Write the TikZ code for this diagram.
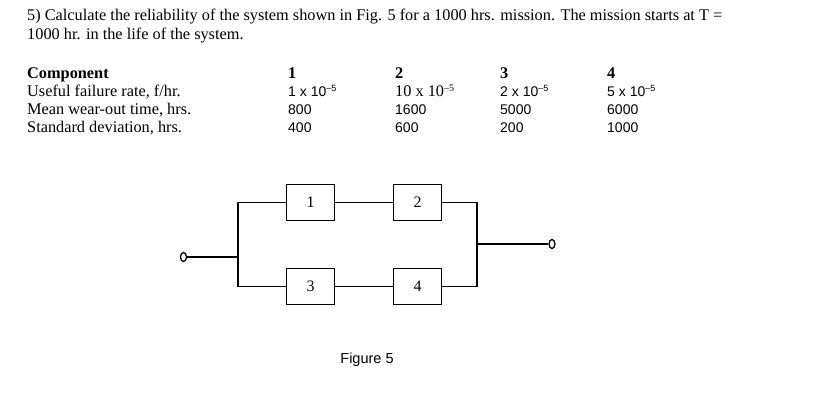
\documentclass[tikz,border=0pt]{standalone}
\usepackage{fontspec}
\usetikzlibrary{shapes.geometric}
\setmainfont{Liberation Serif}
\setsansfont{Liberation Sans}
\begin{document}
\begin{tikzpicture}[x=1pt,y=-1pt,
  t/.style={anchor=base west,inner sep=0,font=\fontsize{16.3}{18}\selectfont},
  v/.style={anchor=base west,inner sep=0,font=\sffamily\fontsize{14}{16}\selectfont},
  blk/.style={draw,line width=1.8pt,minimum width=48pt,minimum height=36pt,inner sep=0,font=\fontsize{16}{18}\selectfont},
  ln/.style={line width=1.4pt},
  term/.style={ellipse,draw,line width=1.3pt,minimum width=6pt,minimum height=9pt,inner sep=0}]
\useasboundingbox (0,0) rectangle (817,404);
\node[t] (l1) at (27,21) {5) Calculate the reliability of the system shown in Fig. 5 for a 1000 hrs. mission. The mission starts at T =};
\node[t] (l2) at (27,40) {1000 hr. in the life of the system.};
\node[t] (h0) at (27,78) {\bfseries Component};
\node[t] (r1) at (27,96) {Useful failure rate, f/hr.};
\node[t] (r2) at (27,114) {Mean wear-out time, hrs.};
\node[t] (r3) at (27,132) {Standard deviation, hrs.};
\node[t] (h1) at (288,78) {\bfseries 1};
\node[t] (h2) at (395,78) {\bfseries 2};
\node[t] (h3) at (500,78) {\bfseries 3};
\node[t] (h4) at (607,78) {\bfseries 4};
\node[v] (a1) at (288,96) {1 x 10\raisebox{5pt}{\fontsize{9}{9}\selectfont --5}};
\node[t] (a2) at (395,96) {10 x 10\raisebox{5pt}{\fontsize{10}{10}\selectfont --5}};
\node[v] (a3) at (500,96) {2 x 10\raisebox{5pt}{\fontsize{9}{9}\selectfont --5}};
\node[v] (a4) at (607,96) {5 x 10\raisebox{5pt}{\fontsize{9}{9}\selectfont --5}};
\node[v] (b1) at (288,114) {800};
\node[v] (b2) at (395,114) {1600};
\node[v] (b3) at (500,114) {5000};
\node[v] (b4) at (607,114) {6000};
\node[v] (c1) at (288,132) {400};
\node[v] (c2) at (395,132) {600};
\node[v] (c3) at (500,132) {200};
\node[v] (c4) at (607,132) {1000};
\node[blk] (k1) at (310.5,202.5) {1};
\node[blk] (k2) at (417.5,202.5) {2};
\node[blk] (k3) at (310.5,286.5) {3};
\node[blk] (k4) at (417.5,286.5) {4};
\node[term] (in) at (183.5,257) {};
\node[term] (out) at (552,244) {};
\coordinate (ls) at (238,257);
\coordinate (rs) at (477,244);
\draw[ln] (in) -- (ls);
\draw[ln] (ls) |- (k1.west);
\draw[ln] (ls) |- (k3.west);
\draw[ln] (k1) -- (k2);
\draw[ln] (k3) -- (k4);
\draw[ln] (k2.east) -| (rs);
\draw[ln] (k4.east) -| (rs);
\draw[ln] (rs) -- (out);
\node[font=\sffamily\fontsize{14.5}{16}\selectfont] (fig) at (367,360) {Figure 5};
\end{tikzpicture}
\end{document}
